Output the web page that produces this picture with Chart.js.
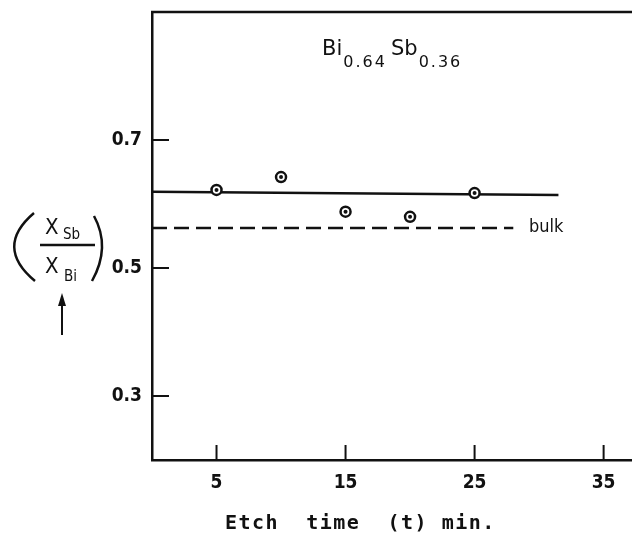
<!DOCTYPE html>
<html>
<head>
<meta charset="utf-8">
<script src="https://cdn.jsdelivr.net/npm/chart.js@4"></script>
<style>
  html, body { margin: 0; padding: 0; background: #fff; overflow: hidden; }
  #plot { display: block; }
</style>
</head>
<body>
<canvas id="plot" width="632" height="535"></canvas>
<script>
// measured points (etch time in min, Sb/Bi ratio)
var times = [5, 10, 15, 20, 25];
var ratios = [0.622, 0.642, 0.588, 0.580, 0.617];

// fitted line and bulk value
var fitTimes = [0, 31.5];
var fitRatios = [0.619, 0.614];
var bulkTimes = [0, 28];
var bulkRatios = [0.5625, 0.5625];

// tick labels
var xTicks = [5, 15, 25, 35];
var yTicks = [0.3, 0.5, 0.7];
var yTickLabels = ["0.3", "0.5", "0.7"];

function pairs(xs, ys) {
    return xs.map(function (x, i) { return { x: x, y: ys[i] }; });
}

// draws inward ticks, the top frame line and the loose text on the figure
var decorations = {
    id: "decorations",
    afterDraw: function (chart) {
        var ctx = chart.ctx;
        var area = chart.chartArea;
        var xs = chart.scales.x;
        var ys = chart.scales.y;
        ctx.save();
        ctx.strokeStyle = "#111";
        ctx.lineWidth = 2.5;
        ctx.lineCap = "butt";

        // top frame
        ctx.beginPath();
        ctx.moveTo(area.left - 1, area.top);
        ctx.lineTo(632, area.top);
        ctx.stroke();

        // inward tick marks
        ctx.lineWidth = 2;
        xTicks.forEach(function (v) {
            var px = xs.getPixelForValue(v);
            ctx.beginPath();
            ctx.moveTo(px, area.bottom);
            ctx.lineTo(px, area.bottom - 15);
            ctx.stroke();
        });
        yTicks.forEach(function (v) {
            var py = ys.getPixelForValue(v);
            ctx.beginPath();
            ctx.moveTo(area.left, py);
            ctx.lineTo(area.left + 17, py);
            ctx.stroke();
        });

        ctx.fillStyle = "#111";
        ctx.textBaseline = "middle";

        // composition label
        ctx.textAlign = "left";
        ctx.font = "21px 'DejaVu Sans'";
        ctx.fillText("Bi", 322, 50);
        var w = ctx.measureText("Bi").width;
        ctx.font = "16px 'DejaVu Sans'";
        ctx.letterSpacing = "2px";
        ctx.fillText("0.64", 322 + w + 1, 63);
        ctx.letterSpacing = "0px";
        ctx.font = "21px 'DejaVu Sans'";
        ctx.fillText("Sb", 391, 50);
        w = ctx.measureText("Sb").width;
        ctx.font = "16px 'DejaVu Sans'";
        ctx.letterSpacing = "2px";
        ctx.fillText("0.36", 391 + w + 1, 63);
        ctx.letterSpacing = "0px";

        // bulk label
        ctx.font = "18px 'DejaVu Sans Condensed'";
        ctx.fillText("bulk", 529, ys.getPixelForValue(bulkRatios[0]) - 1);

        // y axis label: (X_Sb / X_Bi) with arrow
        ctx.lineWidth = 2.5;
        ctx.beginPath();
        ctx.moveTo(34, 213);
        ctx.quadraticCurveTo(-6, 247, 35, 281);
        ctx.stroke();
        ctx.beginPath();
        ctx.moveTo(94, 216);
        ctx.quadraticCurveTo(111, 247, 92, 281);
        ctx.stroke();

        ctx.font = "22px 'DejaVu Sans Condensed'";
        ctx.fillText("X", 45, 228);
        ctx.fillText("X", 45, 267);
        ctx.font = "15px 'DejaVu Sans Condensed'";
        ctx.fillText("Sb", 63, 235);
        ctx.fillText("Bi", 64, 277);
        ctx.lineWidth = 2.5;
        ctx.beginPath();
        ctx.moveTo(40, 245);
        ctx.lineTo(95, 245);
        ctx.stroke();

        // arrow
        ctx.lineWidth = 2;
        ctx.beginPath();
        ctx.moveTo(62, 300);
        ctx.lineTo(62, 335);
        ctx.stroke();
        ctx.beginPath();
        ctx.moveTo(62, 293);
        ctx.lineTo(58, 306);
        ctx.lineTo(66, 306);
        ctx.closePath();
        ctx.fill();

        // x axis title
        ctx.textAlign = "left";
        ctx.font = "bold 20px 'DejaVu Sans Mono'";
        ctx.letterSpacing = "1.5px";
        ctx.fillText("Etch  time  (t) min.", 225, 524);
        ctx.restore();
    }
};

new Chart(document.getElementById("plot"), {
    type: "scatter",
    data: {
        datasets: [
            {
                label: "fit",
                data: pairs(fitTimes, fitRatios),
                showLine: true,
                borderColor: "#111",
                borderWidth: 2.5,
                pointRadius: 0,
                fill: false,
                order: 3
            },
            {
                label: "bulk",
                data: pairs(bulkTimes, bulkRatios),
                showLine: true,
                borderColor: "#111",
                borderWidth: 2.5,
                borderDash: [15, 7],
                pointRadius: 0,
                fill: false,
                order: 3
            },
            {
                label: "measured",
                data: pairs(times, ratios),
                pointRadius: 5,
                pointBorderWidth: 2.5,
                pointBorderColor: "#111",
                pointBackgroundColor: "#fff",
                order: 2
            },
            {
                label: "measured centre",
                data: pairs(times, ratios),
                pointRadius: 2,
                pointBorderWidth: 0,
                pointBorderColor: "#111",
                pointBackgroundColor: "#111",
                order: 1
            }
        ]
    },
    options: {
        responsive: false,
        animation: false,
        layout: { autoPadding: false, padding: { top: 12, right: 0, left: 0, bottom: 0 } },
        plugins: {
            legend: { display: false },
            tooltip: { enabled: false }
        },
        scales: {
            x: {
                type: "linear",
                min: 0,
                max: 37.2,
                afterBuildTicks: function (scale) {
                    scale.ticks = xTicks.map(function (v) { return { value: v }; });
                },
                afterFit: function (scale) {
                    scale.height = 75;
                    scale.paddingLeft = 0;
                    scale.paddingRight = 0;
                },
                grid: { drawOnChartArea: false, drawTicks: false },
                border: { display: true, color: "#111", width: 2.5 },
                ticks: {
                    padding: 12,
                    color: "#111",
                    maxRotation: 0,
                    font: { family: "'DejaVu Sans Condensed'", size: 19, weight: "bold" }
                }
            },
            y: {
                type: "linear",
                min: 0.2,
                max: 0.9,
                afterBuildTicks: function (scale) {
                    scale.ticks = yTicks.map(function (v) { return { value: v }; });
                },
                afterFit: function (scale) {
                    scale.width = 152;
                    scale.paddingTop = 0;
                    scale.paddingBottom = 0;
                },
                grid: { drawOnChartArea: false, drawTicks: false },
                border: { display: true, color: "#111", width: 2.5 },
                ticks: {
                    padding: 10,
                    color: "#111",
                    font: { family: "'DejaVu Sans Condensed'", size: 19, weight: "bold" },
                    callback: function (value) {
                        var i = yTicks.indexOf(value);
                        return i >= 0 ? yTickLabels[i] : "";
                    }
                }
            }
        }
    },
    plugins: [decorations]
});
</script>
</body>
</html>
